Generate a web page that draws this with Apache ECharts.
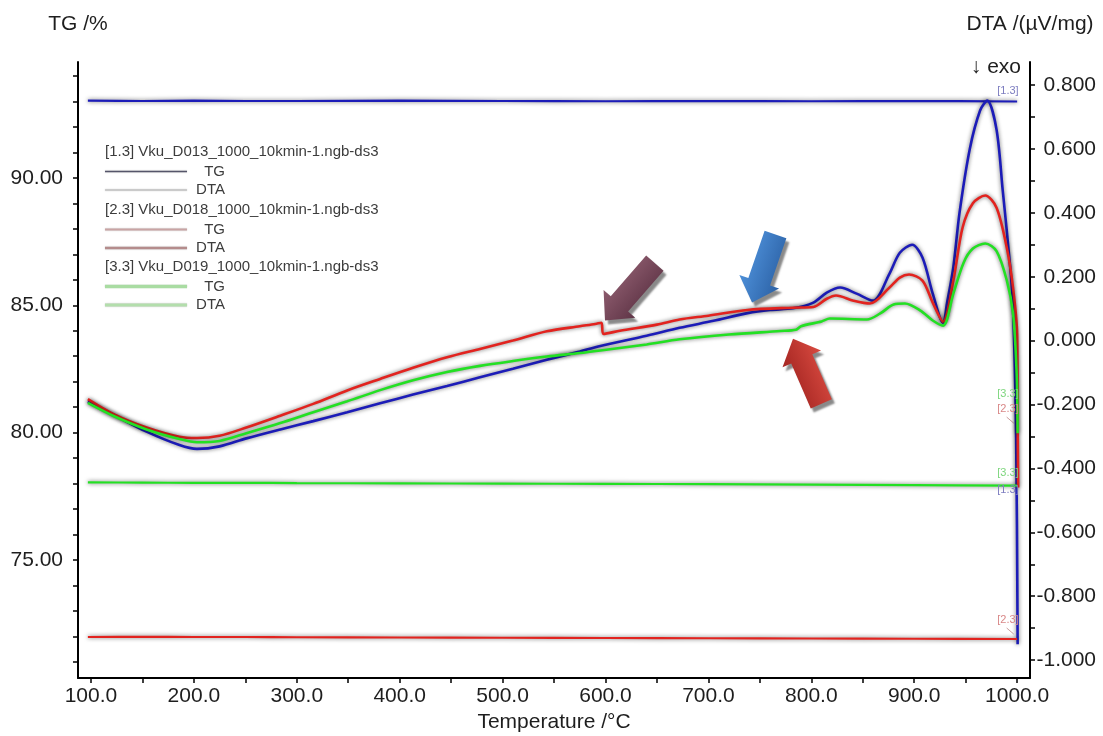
<!DOCTYPE html>
<html>
<head>
<meta charset="utf-8">
<script src="https://cdn.jsdelivr.net/npm/echarts@6/dist/echarts.min.js"></script>
<style>
  html, body { margin: 0; padding: 0; background: #ffffff; }
  #chart { width: 1103px; height: 736px; }
</style>
</head>
<body>
<div id="chart"></div>
<script>
// ---- TG curves (mass, %) ----
const tgTemp  = [97, 150, 200, 250, 300, 400, 500, 600, 700, 800, 900, 1000];
const tgD013  = [93.03, 93.02, 93.03, 93.02, 93.02, 93.03, 93.02, 93.01, 93.02, 93.01, 93.02, 93.00];
const tgD018  = [71.98, 71.99, 71.98, 71.98, 71.97, 71.96, 71.95, 71.94, 71.93, 71.92, 71.91, 71.90];
const tgD019  = [78.05, 78.04, 78.03, 78.03, 78.02, 78.01, 78.00, 77.99, 77.98, 77.96, 77.94, 77.92];

// ---- DTA curves (µV/mg) ----
const dtaD013Temp = [97, 122, 154, 186, 203, 225, 251, 284, 316, 349, 381, 413, 446, 478, 510, 543, 575, 595, 640, 672, 705, 738, 760, 782,
                     802, 815, 828, 844, 860, 876, 886, 898, 908, 918, 928, 932, 938, 944, 954, 964, 971, 980, 986, 993, 996, 999, 1000.5];
const dtaD013     = [-0.190, -0.232, -0.285, -0.327, -0.339, -0.331, -0.306, -0.278, -0.252, -0.224, -0.196, -0.169, -0.142, -0.115, -0.088, -0.060, -0.034, -0.017, 0.015, 0.040, 0.062, 0.086, 0.096, 0.101,
                     0.119, 0.150, 0.166, 0.147, 0.125, 0.210, 0.275, 0.300, 0.260, 0.147, 0.056, 0.120, 0.230, 0.400, 0.600, 0.720, 0.751, 0.660, 0.470, 0.240, 0.103, -0.300, -0.950];

const dtaD018Temp = [97, 122, 154, 186, 203, 225, 251, 284, 316, 349, 381, 413, 446, 478, 510, 543, 575, 590, 596, 598, 614, 650, 672, 700, 738, 782,
                     802, 815, 824, 841, 857, 876, 886, 895, 908, 918, 928, 938, 947, 957, 969, 980, 990, 996, 1000, 1000.5, 1001];
const dtaD018     = [-0.183, -0.230, -0.272, -0.301, -0.305, -0.298, -0.272, -0.235, -0.198, -0.156, -0.120, -0.085, -0.052, -0.026, 0.000, 0.029, 0.045, 0.052, 0.056, 0.021, 0.031, 0.050, 0.066, 0.078, 0.096, 0.103,
                     0.105, 0.131, 0.141, 0.125, 0.116, 0.166, 0.197, 0.207, 0.188, 0.119, 0.059, 0.188, 0.354, 0.430, 0.454, 0.416, 0.290, 0.166, 0.020, -0.250, -0.460];

const dtaD019Temp = [97, 122, 154, 186, 203, 225, 251, 284, 316, 349, 381, 413, 446, 478, 510, 543, 575, 595, 640, 672, 720, 770, 785, 790,
                     810, 818, 854, 867, 880, 891, 906, 918, 928, 938, 948, 957, 969, 980, 990, 996, 999.5, 1000.5];
const dtaD019     = [-0.195, -0.236, -0.278, -0.308, -0.318, -0.314, -0.290, -0.258, -0.224, -0.190, -0.155, -0.124, -0.098, -0.079, -0.064, -0.050, -0.039, -0.031, -0.012, 0.004, 0.019, 0.030, 0.034, 0.045,
                     0.060, 0.069, 0.066, 0.085, 0.113, 0.116, 0.094, 0.063, 0.047, 0.147, 0.244, 0.288, 0.304, 0.280, 0.188, 0.085, -0.100, -0.290];

// ---- axis ticks ----
const tempTicks  = [100, 150, 200, 250, 300, 350, 400, 450, 500, 550, 600, 650, 700, 750, 800, 850, 900, 950, 1000];
const tempLabels = [100, 200, 300, 400, 500, 600, 700, 800, 900, 1000];
const tgTicks    = [71, 72, 73, 74, 75, 76, 77, 78, 79, 80, 81, 82, 83, 84, 85, 86, 87, 88, 89, 90, 91, 92, 93, 94];
const tgLabels   = [75, 80, 85, 90];
const dtaTicks   = [-1.0, -0.9, -0.8, -0.7, -0.6, -0.5, -0.4, -0.3, -0.2, -0.1, 0.0, 0.1, 0.2, 0.3, 0.4, 0.5, 0.6, 0.7, 0.8];
const dtaLabels  = [-1.0, -0.8, -0.6, -0.4, -0.2, 0.0, 0.2, 0.4, 0.6, 0.8];

// ---- legend entries ----
const fileNames = ['[1.3] Vku_D013_1000_10kmin-1.ngb-ds3', '[2.3] Vku_D018_1000_10kmin-1.ngb-ds3', '[3.3] Vku_D019_1000_10kmin-1.ngb-ds3'];

// ---- curve end tags: [text, temperature, value, axis (0 = TG, 1 = DTA)] ----
const tagText  = ['[1.3]', '[3.3]', '[2.3]', '[3.3]', '[1.3]', '[2.3]'];
const tagTemp  = [1001.5, 1001.5, 1001.5, 1001.5, 1001.5, 1001.5];
const tagValue = [93.18, -0.185, -0.230, 78.20, -0.485, 72.45];
const tagAxis  = [0, 1, 1, 0, 1, 0];

// ---- highlighted features (arrow tip on the DTA scale) ----
const arrowTemp  = [599.5, 742.4, 782.2];
const arrowValue = [0.063, 0.119, 0.006];

const BLUE = '#1c1cb8', RED = '#e2231f', GREEN = '#23e023';
const TAG_COLORS = { '[1.3]': '#7d7dc0', '[2.3]': '#d98888', '[3.3]': '#7ed67e' };
const FONT = '"Liberation Sans", Arial, sans-serif';

const pairs = (xs, ys) => xs.map((x, i) => [x, ys[i]]);

function curve(name, xs, ys, color, yAxisIndex, width) {
  return {
    name: name,
    type: 'line',
    yAxisIndex: yAxisIndex,
    data: pairs(xs, ys),
    showSymbol: false,
    smooth: 0.3,
    lineStyle: {
      color: color,
      width: width,
      shadowColor: 'rgba(0,0,0,0.6)',
      shadowBlur: 4
    },
    emphasis: { disabled: true },
    animation: false
  };
}

const chart = echarts.init(document.getElementById('chart'), null, { renderer: 'canvas' });

const axisText = { color: '#1e1e1e', fontSize: 21, fontFamily: FONT };

chart.setOption({
  backgroundColor: '#ffffff',
  animation: false,
  grid: { left: 78, right: 73, top: 62, bottom: 58, containLabel: false, outerBoundsMode: 'none' },
  xAxis: {
    type: 'value',
    min: 87.4,
    max: 1012.5,
    name: 'Temperature /°C',
    nameLocation: 'middle',
    nameGap: 34,
    nameTextStyle: axisText,
    axisLine: { show: true, onZero: false, lineStyle: { color: '#000', width: 2 } },
    axisTick: { show: true, length: 5, customValues: tempTicks, lineStyle: { color: '#000', width: 1.5 } },
    axisLabel: Object.assign({ customValues: tempLabels, margin: 8, formatter: v => v.toFixed(1) }, axisText),
    splitLine: { show: false }
  },
  yAxis: [
    {
      type: 'value',
      position: 'left',
      min: 70.37,
      max: 94.55,
      name: 'TG /%',
      nameLocation: 'end',
      nameGap: 27,
      nameTextStyle: Object.assign({ align: 'center' }, axisText),
      axisLine: { show: true, onZero: false, lineStyle: { color: '#000', width: 2 } },
      axisTick: { show: true, length: 5, customValues: tgTicks, lineStyle: { color: '#000', width: 1.5 } },
      axisLabel: Object.assign({ customValues: tgLabels, margin: 15, formatter: v => v.toFixed(2) }, axisText),
      splitLine: { show: false }
    },
    {
      type: 'value',
      position: 'right',
      min: -1.056,
      max: 0.872,
      name: 'DTA /(µV/mg)',
      nameLocation: 'end',
      nameGap: 27,
      nameTextStyle: Object.assign({ align: 'center' }, axisText),
      axisLine: { show: true, onZero: false, lineStyle: { color: '#000', width: 2 } },
      axisTick: { show: true, length: 5, customValues: dtaTicks, lineStyle: { color: '#000', width: 1.5 } },
      axisLabel: Object.assign({ customValues: dtaLabels, margin: 66, align: 'right', formatter: v => (Math.abs(v) < 1e-9 ? 0 : v).toFixed(3) }, axisText),
      splitLine: { show: false }
    }
  ],
  series: [
    curve('TG D013', tgTemp, tgD013, BLUE, 0, 2.2),
    curve('DTA D013', dtaD013Temp, dtaD013, BLUE, 1, 2.6),
    curve('TG D018', tgTemp, tgD018, RED, 0, 2.2),
    curve('DTA D018', dtaD018Temp, dtaD018, RED, 1, 2.6),
    curve('TG D019', tgTemp, tgD019, GREEN, 0, 2.2),
    curve('DTA D019', dtaD019Temp, dtaD019, GREEN, 1, 2.6)
  ]
});

// ---------- overlay: legend, exo marker, end tags, arrows ----------
const overlay = [];

// legend block
const legendX = 105;
const legendRows = [
  { header: fileNames[0], y: 152, tg: { color: '#55556a', width: 1.5 }, dta: { color: '#c4c4c4', width: 1.5 } },
  { header: fileNames[1], y: 210, tg: { color: '#c9a4a4', width: 2 },   dta: { color: '#b48c8c', width: 2.5 } },
  { header: fileNames[2], y: 267, tg: { color: '#a9dca2', width: 3.5 }, dta: { color: '#b3deac', width: 3 } }
];
legendRows.forEach(row => {
  overlay.push({
    type: 'text', x: legendX, y: row.y,
    style: { text: row.header, fill: '#3c3c3c', font: '15px ' + FONT, verticalAlign: 'middle', align: 'left' }
  });
  [['TG', row.tg, 19.5], ['DTA', row.dta, 38]].forEach(([label, st, dy]) => {
    overlay.push({
      type: 'line',
      shape: { x1: legendX, y1: row.y + dy, x2: legendX + 82, y2: row.y + dy },
      style: { stroke: st.color, lineWidth: st.width, shadowColor: 'rgba(0,0,0,0.25)', shadowBlur: 1.5 }
    });
    overlay.push({
      type: 'text', x: legendX + 120, y: row.y + dy,
      style: { text: label, fill: '#3c3c3c', font: '15px ' + FONT, verticalAlign: 'middle', align: 'right' }
    });
  });
});

// exo direction marker
overlay.push({
  type: 'text', x: 1021, y: 67,
  style: { text: '↓ exo', fill: '#1e1e1e', font: '21px ' + FONT, align: 'right', verticalAlign: 'middle' }
});

// curve end tags
tagText.forEach((t, i) => {
  const p = chart.convertToPixel({ xAxisIndex: 0, yAxisIndex: tagAxis[i] }, [tagTemp[i], tagValue[i]]);
  overlay.push({
    type: 'text', x: p[0], y: p[1],
    style: { text: t, fill: TAG_COLORS[t], font: '11px ' + FONT, align: 'right', verticalAlign: 'bottom' },
    z: 60
  });
  if (t === '[2.3]') {
    overlay.push({
      type: 'line',
      shape: { x1: p[0] - 12, y1: p[1] + 3, x2: p[0] - 5, y2: p[1] + 9 },
      style: { stroke: '#c9a0a0', lineWidth: 1 }
    });
  }
});

// block arrows marking features on the DTA curves
const arrowStyles = [
  { angle: 131, length: 76, light: '#8c5b6d', dark: '#603547' },
  { angle: 109, length: 72, light: '#4d8fd8', dark: '#2c62a6' },
  { angle: 246.5, length: 71, light: '#d84a40', dark: '#a52622' }
];
arrowTemp.forEach((t, i) => {
  const st = arrowStyles[i];
  const tip = chart.convertToPixel({ xAxisIndex: 0, yAxisIndex: 1 }, [t, arrowValue[i]]);
  const a = st.angle * Math.PI / 180;
  const d = [Math.cos(a), Math.sin(a)];
  const n = [-d[1], d[0]];
  const sw = 11.5, hw = 21, hl = 22;
  const bx = tip[0] - d[0] * hl, by = tip[1] - d[1] * hl;
  const tx = tip[0] - d[0] * st.length, ty = tip[1] - d[1] * st.length;
  const pts = [
    [tip[0], tip[1]],
    [bx + n[0] * hw, by + n[1] * hw],
    [bx + n[0] * sw, by + n[1] * sw],
    [tx + n[0] * sw, ty + n[1] * sw],
    [tx - n[0] * sw, ty - n[1] * sw],
    [bx - n[0] * sw, by - n[1] * sw],
    [bx - n[0] * hw, by - n[1] * hw]
  ];
  const mx = (bx + tx) / 2, my = (by + ty) / 2;
  overlay.push({
    type: 'polygon',
    shape: { points: pts },
    style: {
      fill: new echarts.graphic.LinearGradient(
        mx + n[0] * hw, my + n[1] * hw, mx - n[0] * hw, my - n[1] * hw,
        [{ offset: 0, color: st.light }, { offset: 1, color: st.dark }], true),
      shadowColor: 'rgba(40,40,40,0.55)',
      shadowBlur: 2,
      shadowOffsetX: 3,
      shadowOffsetY: 4
    },
    z: 50
  });
});

chart.setOption({ graphic: { elements: overlay } });
</script>
</body>
</html>
